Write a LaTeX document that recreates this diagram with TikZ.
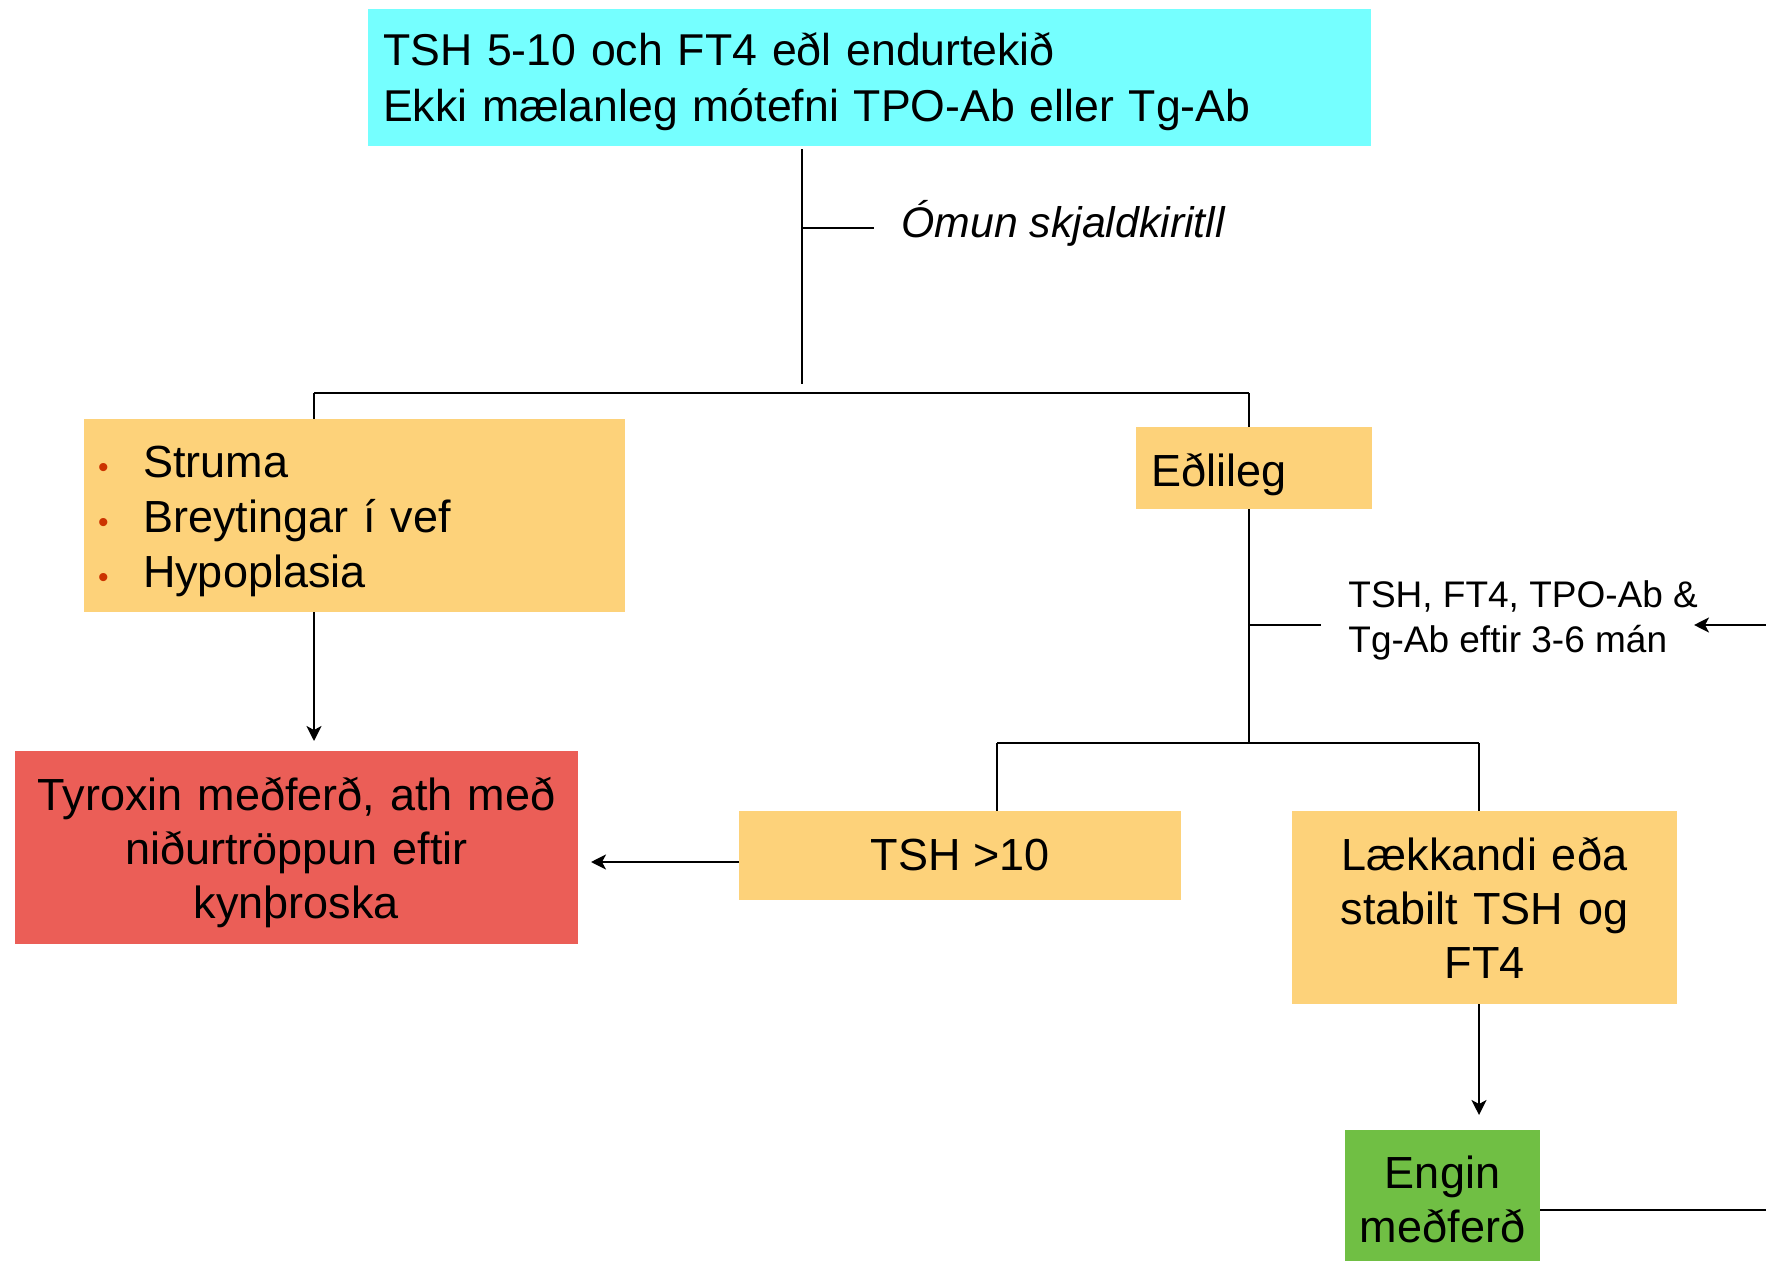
\documentclass[tikz,border=0pt]{standalone}
\usepackage{fontspec}
\setmainfont{Liberation Sans}
\usetikzlibrary{arrows.meta}
\definecolor{cyanc}{RGB}{117,255,255}
\definecolor{orangec}{RGB}{253,210,122}
\definecolor{redc}{RGB}{235,94,87}
\definecolor{greenc}{RGB}{112,191,68}
\definecolor{bulc}{RGB}{204,51,0}
\newcommand\mybul{\hspace*{7pt}\makebox[22.5pt][l]{\textcolor{bulc}{\fontsize{15}{15}\selectfont •}}}
\begin{document}
\begin{tikzpicture}[x=0.5pt,y=-0.5pt,
  box/.style={draw=none,inner sep=0pt,font=\fontsize{22.5}{27.5}\selectfont},
  txt/.style={inner sep=0pt,font=\fontsize{22.5}{27.5}\selectfont},
  conn/.style={line width=1pt,black},
  bar/.style={line width=1.4pt,black},
  arr/.style={line width=1pt,black,-{Stealth[length=7.5pt,width=7.5pt,inset=2pt]}}]
\clip (0,0) rectangle (1766,1261);
\fill[white] (0,0) rectangle (1766,1261);
% boxes
\node[box,fill=cyanc,minimum width=501.5pt,minimum height=68.5pt] (top) at (869.5,77.5) {};
\node[txt,text width=486.5pt,align=left,font=\fontsize{22.3}{28}\selectfont] (toptxt) at ([yshift=-2.25pt]top.center)
  {TSH 5-10 och FT4 eðl endurtekið\\Ekki mælanleg mótefni TPO-Ab eller Tg-Ab};
\node[box,fill=orangec,minimum width=270.5pt,minimum height=96.5pt] (sym) at (354.5,515.5) {};
\node[txt,text width=270.5pt,align=left] (symtxt) at ([yshift=-2.8pt]sym.center)
  {\mybul Struma\\\mybul Breytingar í vef\\\mybul Hypoplasia};
\node[box,fill=orangec,minimum width=118pt,minimum height=41pt] (edl) at (1254,468) {};
\node[txt,text width=103pt,align=left] (edltxt) at ([yshift=-3.3pt]edl.center) {Eðlileg};
\node[box,fill=redc,minimum width=281.5pt,minimum height=96.5pt] (tyr) at (296.5,847.5) {};
\node[txt,text width=275pt,align=center,font=\fontsize{22.5}{27}\selectfont] (tyrtxt) at ([yshift=-2.4pt]tyr.center)
  {Tyroxin meðferð, ath með\\niðurtröppun eftir\\kynþroska};
\node[box,fill=orangec,minimum width=221pt,minimum height=44.5pt] (tsh) at (960,855.5) {TSH >10};
\node[box,fill=orangec,minimum width=192.5pt,minimum height=96.5pt,text width=185pt,align=center,font=\fontsize{22.5}{27}\selectfont] (lak) at (1484.5,907.5)
  {Lækkandi eða\\stabilt TSH og\\FT4};
\node[box,fill=greenc,minimum width=97.5pt,minimum height=69.5pt,text width=95pt,align=center,font=\fontsize{22.5}{27}\selectfont] (eng) at (1442.5,1199.5)
  {Engin\\meðferð};
% labels
\node[inner sep=0pt,anchor=base west,font=\fontsize{21.4}{26}\selectfont\itshape] (omun) at (901,238) {Ómun skjaldkiritll};
\node[inner sep=0pt,anchor=west,align=left,font=\fontsize{18.5}{22.5}\selectfont] (lab) at (1348,620) {TSH, FT4, TPO-Ab \&\\Tg-Ab eftir 3-6 mán};
% coordinates
\coordinate (stem) at (802,384);
\coordinate (t1) at (802,228);
\coordinate (t1e) at (874,228);
\coordinate (bl) at (314,393);
\coordinate (br) at (1249,393);
\coordinate (b2) at (1249,743);
\coordinate (b2l) at (997,743);
\coordinate (b2r) at (1479,743);
\coordinate (t2) at (1249,625);
\coordinate (t2e) at (1321,625);
\coordinate (rin) at (1766,625);
\coordinate (rtip) at (1694,625);
\coordinate (tyrtip) at (314,741);
\coordinate (tshl) at (739,862);
\coordinate (tshtip) at (591,862);
\coordinate (engtip) at (1479,1115);
\coordinate (engr) at (1540,1210);
\coordinate (gout) at (1766,1210);
% connectors
\draw[conn] ([yshift=-1.5pt]top.south -| stem) -- (stem);
\draw[conn] (t1) -- (t1e);
\draw[bar] (bl) -- (br);
\draw[conn] (bl) -- (bl |- sym.north);
\draw[conn] (br) -- (br |- edl.north);
\draw[arr] (bl |- sym.south) -- (tyrtip);
\draw[conn] (br |- edl.south) -- (b2);
\draw[conn] (t2) -- (t2e);
\draw[arr] (rin) -- (rtip);
\draw[bar] (b2l) -- (b2r);
\draw[conn] (b2l) -- (b2l |- tsh.north);
\draw[conn] (b2r) -- (b2r |- lak.north);
\draw[arr] (tshl) -- (tshtip);
\draw[arr] (b2r |- lak.south) -- (engtip);
\draw[bar] (engr) -- (gout);
\end{tikzpicture}
\end{document}
